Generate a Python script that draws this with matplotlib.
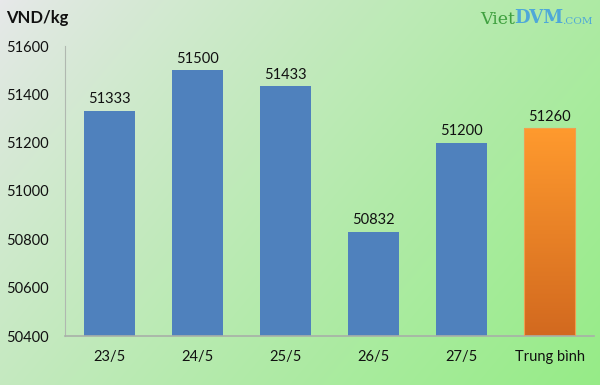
import numpy as np
import matplotlib
matplotlib.use("Agg")
import matplotlib.pyplot as plt
from matplotlib.colors import LinearSegmentedColormap

categories = ["23/5", "24/5", "25/5", "26/5", "27/5", "Trung bình"]
values = [51333, 51500, 51433, 50832, 51200, 51260]
yticks = [50400, 50600, 50800, 51000, 51200, 51400, 51600]

plt.rcParams['font.family'] = ['Lato', 'DejaVu Sans']

fig = plt.figure(figsize=(6, 3.85), dpi=100)

# background gradient
bg = fig.add_axes([0, 0, 1, 1], zorder=-10)
h, w = 385, 600
yy, xx = np.mgrid[0:h, 0:w]
t = np.clip((xx / w) * 0.65 + (yy / h) * 0.35, 0, 1)
t = t ** 0.8
c0 = np.array([232, 232, 235]) / 255
c1 = np.array([150, 236, 135]) / 255
img = c0[None, None, :] * (1 - t[..., None]) + c1[None, None, :] * t[..., None]
bg.imshow(img, aspect='auto', extent=[0, 1, 0, 1], origin='upper')
bg.axis('off')

ax = fig.add_axes([65 / 600, (385 - 336) / 385, (594 - 65) / 600, (336 - 46) / 385])
ax.patch.set_alpha(0)
x = np.arange(len(categories))
bw = 0.58
bars = ax.bar(x[:-1], values[:-1], width=bw, color='#4F81BD', zorder=2)

# gradient orange bar
cmap = LinearSegmentedColormap.from_list('o', ['#D2691F', '#FF9A2E'])
grad = np.linspace(0, 1, 256).reshape(-1, 1)
xi = x[-1]
ax.imshow(grad, cmap=cmap, aspect='auto', origin='lower',
          extent=[xi - bw / 2, xi + bw / 2, 50400, values[-1]], zorder=2)
ax.add_patch(plt.Rectangle((xi - bw / 2, 50400), bw, values[-1] - 50400,
                           fill=False, edgecolor='#F0A050', lw=0.8, zorder=3))

for xi_, v in zip(x, values):
    ax.text(xi_, v + 18, str(v), ha='center', va='bottom', fontsize=10.5, color='#111111')

ax.set_xlim(-0.5, len(categories) - 0.5)
ax.set_ylim(50400, 51600)
ax.set_yticks(yticks)
ax.set_yticklabels([str(v) for v in yticks])
ax.set_xticks(x)
ax.set_xticklabels(categories)
ax.tick_params(axis='both', length=0, labelsize=10.5, colors='#111111')
ax.tick_params(axis='y', pad=12)
ax.tick_params(axis='x', pad=10)
for s in ['top', 'right']:
    ax.spines[s].set_visible(False)
ax.spines['left'].set_color('#B0B8B0')
ax.spines['bottom'].set_color('#A8B0A8')
ax.spines['bottom'].set_linewidth(1.2)

fig.text(6 / 600, 1 - 18 / 385, "VND/kg", fontsize=12, fontweight='bold', va='center', ha='left', color='#111111')

# logo
fig.text(480 / 600, 1 - 20 / 385, "Viet", fontsize=12.5, family='DejaVu Serif', color='#3FA03F', va='center', ha='left')
fig.text(514 / 600, 1 - 18 / 385, "DVM", fontsize=13, family='DejaVu Serif', color='#4FA8D8', va='center', ha='left', fontweight='bold')
fig.text(593 / 600, 1 - 22 / 385, ".COM", fontsize=7.5, family='DejaVu Serif', color='#4FA8D8', va='center', ha='right')

fig.savefig("out.png", dpi=100)
